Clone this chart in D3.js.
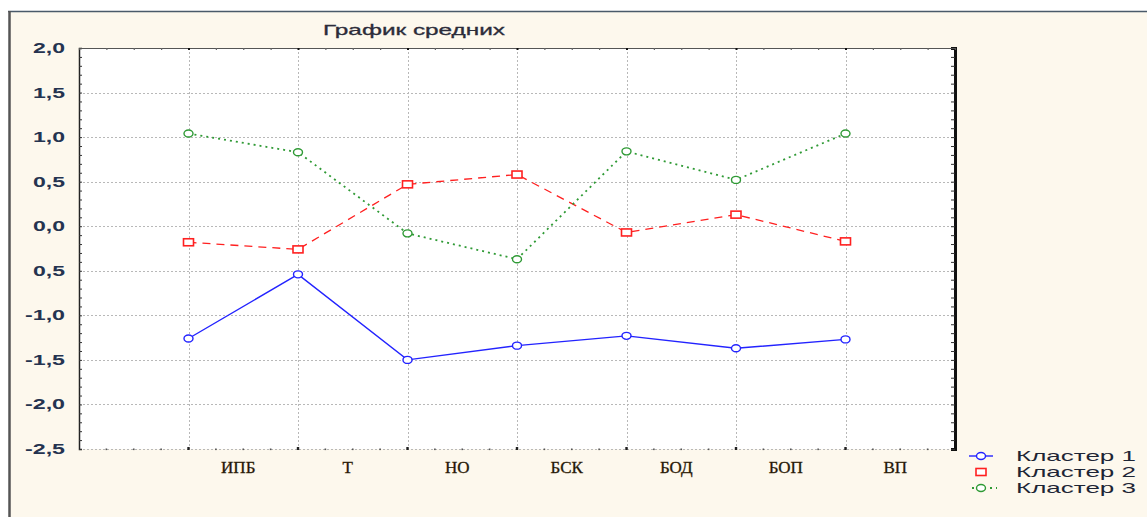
<!DOCTYPE html>
<html>
<head>
<meta charset="utf-8">
<script src="https://cdn.jsdelivr.net/npm/d3@7"></script>
<style>
  html, body { margin: 0; padding: 0; background: #ffffff; }
  svg { display: block; }
</style>
</head>
<body>
<script>
// Cluster means by variable
const categories = ["ИПБ", "Т", "НО", "БСК", "БОД", "БОП", "ВП"];
const cluster1 = [-1.26, -0.54, -1.50, -1.34, -1.23, -1.37, -1.27];
const cluster2 = [-0.18, -0.26, 0.47, 0.58, -0.07, 0.13, -0.17];
const cluster3 = [1.04, 0.83, -0.08, -0.37, 0.84, 0.52, 1.04];
const seriesNames = ["Кластер  1", "Кластер  2", "Кластер  3"];
const yTickValues = [2.0, 1.5, 1.0, 0.5, 0.0, -0.5, -1.0, -1.5, -2.0, -2.5];
const yTickLabels = ["2,0", "1,5", "1,0", "0,5", "0,0", "0,5", "-1,0", "-1,5", "-2,0", "-2,5"];
const title = "График средних";

const W = 1147, H = 517;
const plot = { left: 79, right: 955, top: 48, bottom: 449 };

const svg = d3.select("body").append("svg").attr("width", W).attr("height", H);

// window frame
svg.append("rect").attr("x", 9).attr("y", 11).attr("width", W - 9).attr("height", H - 11).attr("fill", "#fdf8ed");
svg.append("line").attr("x1", 8).attr("x2", W).attr("y1", 11.5).attr("y2", 11.5)
  .attr("stroke", "#4a5a6a").attr("stroke-width", 1.5);
svg.append("line").attr("x1", 9.5).attr("x2", 9.5).attr("y1", 11).attr("y2", H)
  .attr("stroke", "#555").attr("stroke-width", 2.5);

const x = d3.scaleLinear().domain([0, 8]).range([plot.left, plot.right]);
const y = d3.scaleLinear().domain([-2.5, 2.0]).range([plot.bottom, plot.top]);

// plot background
svg.append("rect").attr("x", plot.left).attr("y", plot.top)
  .attr("width", plot.right - plot.left).attr("height", plot.bottom - plot.top).attr("fill", "#ffffff");

// grid
const grid = svg.append("g").attr("stroke", "#b8b8b8").attr("stroke-width", 1).attr("stroke-dasharray", "2,2");
grid.selectAll("line.h").data(yTickValues).join("line").attr("class", "h")
  .attr("x1", plot.left).attr("x2", plot.right)
  .attr("y1", d => Math.round(y(d)) + 0.5).attr("y2", d => Math.round(y(d)) + 0.5);
grid.selectAll("line.v").data(categories).join("line").attr("class", "v")
  .attr("x1", (d, i) => Math.round(x(i + 1)) + 0.5).attr("x2", (d, i) => Math.round(x(i + 1)) + 0.5)
  .attr("y1", plot.top).attr("y2", plot.bottom);

// axes: left, right (ticks inward), top, bottom dots
const minorY = d3.range(-25, 21).map(v => v / 10);
const leftAxis = d3.axisRight(y).tickValues(minorY).tickSize(3).tickFormat("");
const gl = svg.append("g").attr("transform", `translate(${plot.left},0)`).call(leftAxis);
gl.select(".domain").attr("stroke", "#222").attr("stroke-width", 1.5);
gl.selectAll(".tick line").attr("stroke", "#333");

const rightAxis = d3.axisLeft(y).tickValues(minorY).tickSize(4).tickFormat("");
const gr = svg.append("g").attr("transform", `translate(${plot.right},0)`).call(rightAxis);
gr.select(".domain").attr("stroke", "#111").attr("stroke-width", 3);
gr.selectAll(".tick line").attr("stroke", "#333");

const minorX = d3.range(1, 32).map(v => v / 4);
const topAxis = d3.axisBottom(x).tickValues(minorX).tickSize(2).tickFormat("");
const gt = svg.append("g").attr("transform", `translate(0,${plot.top})`).call(topAxis);
gt.select(".domain").attr("stroke", "#555").attr("stroke-width", 1.2);
gt.selectAll(".tick line").attr("stroke", d => Number.isInteger(d) ? "#111" : "#666")
  .attr("stroke-width", d => Number.isInteger(d) ? 2 : 1.2);

svg.append("g").selectAll("rect").data(minorX).join("rect")
  .attr("x", d => x(d) - (Number.isInteger(d) ? 1.2 : 0.8))
  .attr("y", d => plot.bottom - (Number.isInteger(d) ? 2 : 0.5))
  .attr("width", d => Number.isInteger(d) ? 2.4 : 1.6)
  .attr("height", d => Number.isInteger(d) ? 3 : 1.6)
  .attr("fill", d => Number.isInteger(d) ? "#222" : "#555");

// y tick labels
svg.append("g").selectAll("text").data(yTickValues).join("text")
  .attr("x", 65).attr("y", d => y(d) + 5)
  .attr("text-anchor", "end")
  .attr("font-family", "Arial, 'Liberation Sans', sans-serif")
  .attr("font-size", 14).attr("font-weight", "bold")
  .attr("fill", "#253350")
  .attr("textLength", (d, i) => yTickLabels[i].length === 3 ? 32 : 40)
  .attr("lengthAdjust", "spacingAndGlyphs")
  .text((d, i) => yTickLabels[i]);

// category labels
svg.append("g").selectAll("text").data(categories).join("text")
  .attr("x", (d, i) => x(i + 1.5) - 5).attr("y", 473)
  .attr("text-anchor", "middle")
  .attr("font-family", "'Liberation Serif', 'Times New Roman', serif")
  .attr("font-size", 17)
  .attr("fill", "#1a1408").attr("stroke", "#3a2a10").attr("stroke-width", 0.35)
  .text(d => d);

// title
svg.append("text").attr("x", 414).attr("y", 35).attr("text-anchor", "middle")
  .attr("font-family", "Arial, 'Liberation Sans', sans-serif")
  .attr("font-size", 15).attr("fill", "#2c2c3a")
  .attr("stroke", "#2c2c3a").attr("stroke-width", 0.3)
  .attr("textLength", 182).attr("lengthAdjust", "spacingAndGlyphs")
  .text(title);

// series
const series = [
  { values: cluster1, color: "#2323ff", dash: null, width: 1.4, shape: "circle" },
  { values: cluster2, color: "#ff2020", dash: "8,6", width: 1.3, shape: "square" },
  { values: cluster3, color: "#2f9a35", dash: "2,4", width: 1.8, shape: "circle" }
];

const line = d3.line().x((d, i) => x(i + 1)).y(d => y(d));

function drawMarker(sel, shape, color) {
  if (shape === "circle") {
    sel.append("ellipse").attr("rx", 4.5).attr("ry", 3.5)
      .attr("fill", "#ffffff").attr("stroke", color).attr("stroke-width", 1.4);
  } else {
    sel.append("rect").attr("x", -5).attr("y", -3.5).attr("width", 10).attr("height", 7)
      .attr("fill", "#ffffff").attr("stroke", color).attr("stroke-width", 1.6);
  }
}

series.forEach(s => {
  svg.append("path").datum(s.values)
    .attr("d", line).attr("fill", "none")
    .attr("stroke", s.color).attr("stroke-width", s.width)
    .attr("stroke-dasharray", s.dash);
  svg.append("g").selectAll("g").data(s.values).join("g")
    .attr("transform", (d, i) => `translate(${x(i + 1)},${y(d)})`)
    .each(function () { drawMarker(d3.select(this), s.shape, s.color); });
});

// legend
const legend = svg.append("g");
const rows = [456, 472, 488];
series.forEach((s, i) => {
  const g = legend.append("g").attr("transform", `translate(981,${rows[i]})`);
  if (s.shape === "circle") {
    g.append("line").attr("x1", s.dash ? -9 : -12).attr("x2", s.dash ? 16 : 12).attr("y1", 0).attr("y2", 0)
      .attr("stroke", s.color).attr("stroke-width", s.width).attr("stroke-dasharray", s.dash);
  }
  drawMarker(g, s.shape, s.color);
  legend.append("text").attr("x", 1016).attr("y", rows[i] + 5)
    .attr("font-family", "Arial, 'Liberation Sans', sans-serif")
    .attr("font-size", 15).attr("fill", "#1e2535")
    .attr("textLength", 120).attr("lengthAdjust", "spacingAndGlyphs")
    .text(seriesNames[i]);
});
</script>
</body>
</html>
